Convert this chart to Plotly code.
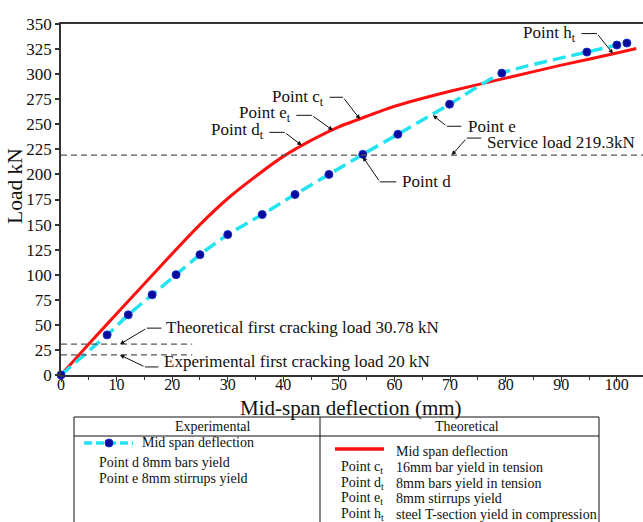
import plotly.graph_objects as go

# ---------------- data ----------------
exp_x = [0.0, 8.3, 12.1, 16.4, 20.7, 25.0, 30.0, 36.2, 42.1, 48.2, 54.3, 60.6, 69.9, 79.3, 94.6, 100.0, 101.8]
exp_y = [0, 40, 60, 80, 100, 120, 140, 160, 180, 200, 220, 240, 270, 301, 322, 329, 331]

theo_x = [0.0, 5.0, 10.0, 15.0, 20.0, 25.0, 30.0, 35.0, 40.0, 45.0, 50.0, 55.0, 60.0, 70.0, 80.0, 90.0, 100.0, 103.5]
theo_y = [0, 31, 61, 91, 121, 150, 176, 198, 218, 234, 247.5, 258, 268, 283, 296, 309, 321, 325.5]

service_load = 219.3
theo_crack = 30.78
exp_crack = 20
crack_line_end = 23.6

x_ticks = list(range(0, 101, 10))
y_ticks = list(range(0, 351, 25))

FONT = "Liberation Serif, Times New Roman, Times, serif"

# plot area in pixels
W, H = 643, 522
L, R, T, B = 61, 0, 24, 147
PW, PH = W - L - R, H - T - B


def px(X, Y):
    return (X - L) / PW, (H - B - Y) / PH


fig = go.Figure()

fig.add_trace(go.Scatter(
    x=theo_x, y=theo_y, mode="lines",
    line=dict(color="#FF1010", width=3, shape="spline", smoothing=0.5),
    cliponaxis=False, name="Theoretical"))

fig.add_trace(go.Scatter(
    x=exp_x, y=exp_y, mode="lines+markers",
    line=dict(color="#22E3F0", width=3.5, dash="13px,6px", shape="spline", smoothing=0.5),
    marker=dict(color="#0A0A9A", size=8, line=dict(color="#1030D0", width=1)),
    cliponaxis=False, name="Experimental"))

shapes = []
# reference dashed lines
shapes.append(dict(type="line", xref="x", yref="y", x0=0, x1=104.7, y0=service_load, y1=service_load,
                   line=dict(color="#555555", width=1.2, dash="6px,4px")))
for v in (theo_crack, exp_crack):
    shapes.append(dict(type="line", xref="x", yref="y", x0=0, x1=crack_line_end, y0=v, y1=v,
                       line=dict(color="#555555", width=1.2, dash="6px,4px")))

annotations = []

# callouts: tip (data), elbow offset (px, screen-down), horizontal length (px), text, text offset
callouts = [
    (53.8, 255, -17, -22, -15, "Point c<sub>t</sub>", -34, 21, "right"),
    (48.9, 244, -21, -15, -17, "Point e<sub>t</sub>", -40, 16, "right"),
    (43.3, 229, -17, -13, -17, "Point d<sub>t</sub>", -36, 14, "right"),
    (99.3, 320.5, -16, -20, -17, "Point h<sub>t</sub>", -35, 20, "right"),
    (66.9, 259, 14, 11, 16, "Point e", 33, -11, "left"),
    (54.3, 217.5, 17, 25, 18, "Point d", 37, -25, "left"),
    (70.3, service_load, 15, -17, 16, "Service load 219.3kN", 33, 13, "left"),
    (10.6, theo_crack, 27, -16, 16, "Theoretical first cracking load 30.78 kN", 44, 17, "left"),
    (10.6, exp_crack, 25, 12, 15, "Experimental first cracking load 20 kN", 42, -7, "left"),
]
for tx, ty, dx, dy, hl, txt, sx, sy, anc in callouts:
    annotations.append(dict(x=tx, y=ty, xref="x", yref="y", ax=dx, ay=dy, text="",
                            showarrow=True, arrowhead=2, arrowsize=0.9, arrowwidth=1,
                            arrowcolor="#111111"))
    annotations.append(dict(x=tx, y=ty, xref="x", yref="y", xshift=dx, yshift=-dy,
                            ax=hl, ay=0, text="", showarrow=True, arrowhead=0,
                            arrowwidth=1, arrowcolor="#111111"))
    annotations.append(dict(x=tx, y=ty, xref="x", yref="y", xshift=sx, yshift=sy,
                            text=txt, showarrow=False, xanchor=anc, yanchor="middle",
                            font=dict(family=FONT, size=17, color="#111111")))

# axis titles
ax_, ay_ = px(351, 408)
annotations.append(dict(x=ax_, y=ay_, xref="paper", yref="paper", text="Mid-span deflection (mm)",
                        showarrow=False, xanchor="center", yanchor="middle",
                        font=dict(family=FONT, size=21, color="#111111")))
ax_, ay_ = px(15, 186)
annotations.append(dict(x=ax_, y=ay_, xref="paper", yref="paper", text="Load kN", textangle=-90,
                        showarrow=False, xanchor="center", yanchor="middle",
                        font=dict(family=FONT, size=21.5, color="#111111")))

# ---------------- legend table ----------------
def pline(X0, Y0, X1, Y1, color="#111111", width=1, dash=None):
    a, b = px(X0, Y0)
    c, d = px(X1, Y1)
    ln = dict(color=color, width=width)
    if dash:
        ln["dash"] = dash
    shapes.append(dict(type="line", xref="paper", yref="paper", x0=a, y0=b, x1=c, y1=d, line=ln))


pline(74, 417, 599, 417)
pline(74, 436, 599, 436)
pline(74, 417, 74, 540)
pline(599, 417, 599, 540)
pline(320, 417, 320, 540)

# legend samples
pline(84, 443, 133, 443, color="#22E3F0", width=3.5, dash="8px,4px")
cx, cy = px(109, 443)
shapes.append(dict(type="circle", xref="paper", yref="paper", xsizemode="pixel", ysizemode="pixel",
                   xanchor=cx, yanchor=cy, x0=-4, x1=4, y0=-4, y1=4,
                   fillcolor="#0A0A9A", line=dict(color="#1030D0", width=1)))
pline(335, 449, 384, 449, color="#FF1010", width=3.5)


def ptext(X, Y, txt, size=14, anchor="left"):
    a, b = px(X, Y)
    annotations.append(dict(x=a, y=b, xref="paper", yref="paper", text=txt, showarrow=False,
                            xanchor=anchor, yanchor="middle",
                            font=dict(family=FONT, size=size, color="#111111")))


ptext(213, 426, "Experimental", 14, "center")
ptext(467, 426, "Theoretical", 14, "center")
ptext(140, 442, "Mid span deflection")
ptext(97, 462, "Point d 8mm bars yield")
ptext(97, 478, "Point e 8mm stirrups yield")
ptext(394, 451, "Mid span deflection")
rows = [(467, "Point c<sub>t</sub>", "16mm bar yield in tension"),
        (483, "Point d<sub>t</sub>", "8mm bars yield in tension"),
        (498, "Point e<sub>t</sub>", "8mm stirrups yield"),
        (514, "Point h<sub>t</sub>", "steel T-section yield in compression")]
for yy, a, b in rows:
    ptext(339, yy, a)
    ptext(394, yy, b)

fig.update_layout(
    width=W, height=H, margin=dict(l=L, r=R, t=T, b=B),
    paper_bgcolor="white", plot_bgcolor="white", showlegend=False,
    shapes=shapes, annotations=annotations,
    font=dict(family=FONT, color="#111111"),
    xaxis=dict(range=[0, 104.7], tickvals=x_ticks, ticks="outside", ticklen=5, tickwidth=1,
               tickcolor="#333333", showline=True, linecolor="#333333", linewidth=1.5, mirror=True,
               showgrid=False, zeroline=False, tickfont=dict(family=FONT, size=16, color="#111111"),
               ticklabelstandoff=-11,
               minor=dict(dtick=5, ticks="outside", ticklen=3, tickcolor="#333333")),
    yaxis=dict(range=[0, 350], tickvals=y_ticks, ticks="outside", ticklen=4, tickwidth=1.5,
               tickcolor="#333333", showline=True, linecolor="#333333", linewidth=1.5,
               showgrid=False, zeroline=False, tickfont=dict(family=FONT, size=17, color="#111111")),
)

fig.write_html("out.html")
